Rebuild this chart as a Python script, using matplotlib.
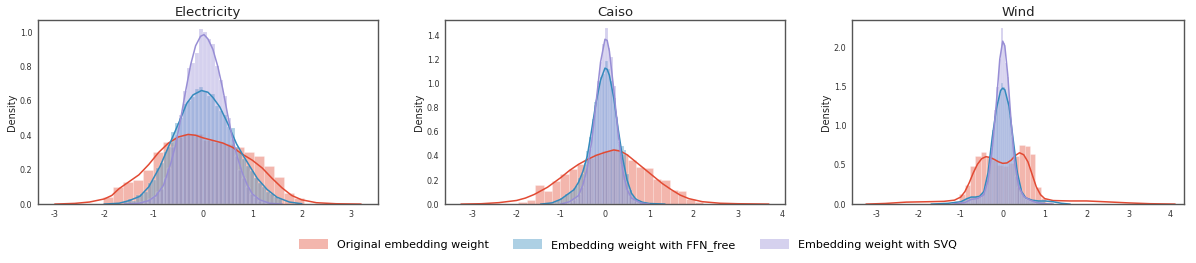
import matplotlib
matplotlib.use("Agg")
import matplotlib.pyplot as plt
from matplotlib.patches import Patch
import numpy as np

plt.rcParams['font.family'] = ['DejaVu Sans']
plt.rcParams['axes.unicode_minus'] = False

titles = ["Electricity", "Caiso", "Wind"]
labels = ["Original embedding weight", "Embedding weight with FFN_free", "Embedding weight with SVQ"]
colors = ["#E24A33", "#348ABD", "#988ED5"]

# ---------------- Electricity ----------------
elec_orig_start, elec_orig_width = -2.02, 0.203
elec_orig_hist = [0.04, 0.10, 0.13, 0.14, 0.20, 0.30, 0.36, 0.39, 0.41, 0.41,
                  0.37, 0.36, 0.35, 0.33, 0.30, 0.28, 0.22, 0.16, 0.065, 0.033]
elec_small_start, elec_small_width = -1.6, 0.08
elec_ffn_hist = [0.01, 0.03, 0.02, 0.05, 0.06, 0.07, 0.12, 0.14, 0.21, 0.24,
                 0.30, 0.33, 0.42, 0.47, 0.50, 0.58, 0.60, 0.62, 0.67, 0.68,
                 0.66, 0.63, 0.64, 0.57, 0.54, 0.52, 0.45, 0.44, 0.33, 0.30,
                 0.26, 0.22, 0.19, 0.15, 0.12, 0.10, 0.07, 0.06, 0.04, 0.03]
elec_svq_hist = [0.0, 0.0, 0.0, 0.005, 0.01, 0.015, 0.03, 0.04, 0.07, 0.09,
                 0.15, 0.21, 0.33, 0.40, 0.52, 0.66, 0.79, 0.82, 0.88, 1.02,
                 1.00, 0.96, 0.93, 0.80, 0.72, 0.63, 0.50, 0.38, 0.28, 0.20,
                 0.15, 0.10, 0.06, 0.04, 0.02, 0.012, 0.006, 0.003, 0.0, 0.0]
elec_orig_kde_x = [-3.0, -2.6, -2.3, -2.0, -1.85, -1.7, -1.5, -1.3, -1.1, -0.9, -0.7, -0.5, -0.3, -0.15,
                   0.0, 0.2, 0.4, 0.6, 0.8, 1.0, 1.2, 1.4, 1.6, 1.8, 2.0, 2.3, 2.7, 3.2]
elec_orig_kde_y = [0.0, 0.004, 0.012, 0.03, 0.05, 0.09, 0.13, 0.17, 0.23, 0.30, 0.355, 0.39, 0.405, 0.40,
                   0.385, 0.37, 0.355, 0.33, 0.29, 0.255, 0.21, 0.15, 0.095, 0.05, 0.025, 0.008, 0.002, 0.0]
elec_ffn_kde_x = [-2.0, -1.7, -1.5, -1.28, -1.1, -0.87, -0.6, -0.45, -0.33, -0.2, -0.03, 0.1, 0.2, 0.34,
                  0.5, 0.68, 0.82, 0.955, 1.1, 1.3, 1.5, 1.75, 2.0]
elec_ffn_kde_y = [0.0, 0.005, 0.02, 0.045, 0.10, 0.22, 0.40, 0.50, 0.585, 0.635, 0.66, 0.65, 0.62, 0.565,
                  0.47, 0.35, 0.28, 0.217, 0.15, 0.085, 0.04, 0.012, 0.002]
elec_svq_kde_x = [-1.6, -1.3, -1.1, -0.95, -0.8, -0.65, -0.55, -0.45, -0.35, -0.25, -0.15, -0.05, 0.02,
                  0.1, 0.2, 0.3, 0.4, 0.5, 0.6, 0.7, 0.8, 0.9, 1.0, 1.15, 1.35, 1.6]
elec_svq_kde_y = [0.0, 0.005, 0.02, 0.05, 0.11, 0.24, 0.35, 0.50, 0.66, 0.81, 0.92, 0.975, 0.985,
                  0.96, 0.90, 0.80, 0.67, 0.52, 0.38, 0.27, 0.18, 0.11, 0.06, 0.025, 0.005, 0.0]

# ---------------- Caiso ----------------
caiso_orig_start, caiso_orig_width = -1.96, 0.19
caiso_orig_hist = [0.02, 0.03, 0.16, 0.11, 0.19, 0.25, 0.29, 0.33, 0.38, 0.42, 0.44,
                   0.46, 0.42, 0.37, 0.31, 0.30, 0.21, 0.20, 0.12, 0.11, 0.04, 0.02]
caiso_small_start, caiso_small_width = -1.2, 0.06
caiso_ffn_hist = [0.01, 0.02, 0.03, 0.05, 0.06, 0.08, 0.09, 0.10, 0.13, 0.15,
                  0.22, 0.25, 0.34, 0.44, 0.56, 0.71, 0.85, 0.98, 1.06, 1.08,
                  1.19, 1.12, 1.02, 0.88, 0.68, 0.52, 0.48, 0.45, 0.25, 0.12,
                  0.07, 0.05, 0.03, 0.02, 0.01, 0.01, 0.005, 0.0, 0.0, 0.0]
caiso_svq_hist = [0.0, 0.0, 0.0, 0.0, 0.0, 0.0, 0.01, 0.015, 0.03, 0.05,
                  0.08, 0.14, 0.22, 0.33, 0.46, 0.62, 0.82, 1.02, 1.18, 1.33,
                  1.46, 1.30, 1.22, 0.98, 0.72, 0.50, 0.33, 0.20, 0.12, 0.07,
                  0.04, 0.025, 0.015, 0.01, 0.005, 0.0, 0.0, 0.0, 0.0, 0.0]
caiso_orig_kde_x = [-3.25, -2.8, -2.4, -2.0, -1.8, -1.6, -1.3, -1.0, -0.8, -0.6, -0.4, -0.2, 0.0, 0.2,
                    0.35, 0.5, 0.7, 0.9, 1.1, 1.3, 1.5, 1.7, 1.9, 2.2, 2.6, 3.0, 3.7]
caiso_orig_kde_y = [0.0, 0.003, 0.012, 0.03, 0.05, 0.08, 0.14, 0.22, 0.28, 0.33, 0.37, 0.405, 0.43, 0.45,
                    0.44, 0.41, 0.35, 0.29, 0.23, 0.17, 0.12, 0.075, 0.045, 0.02, 0.007, 0.003, 0.0]
caiso_ffn_kde_x = [-1.45, -1.2, -1.0, -0.85, -0.7, -0.6, -0.5, -0.4, -0.3, -0.2, -0.1, 0.0, 0.05, 0.1,
                   0.2, 0.3, 0.4, 0.5, 0.6, 0.7, 0.85, 1.0, 1.35]
caiso_ffn_kde_y = [0.0, 0.01, 0.04, 0.08, 0.12, 0.18, 0.27, 0.40, 0.62, 0.85, 1.03, 1.13, 1.12, 1.07,
                   0.88, 0.62, 0.38, 0.20, 0.09, 0.04, 0.015, 0.005, 0.0]
caiso_svq_kde_x = [-1.0, -0.8, -0.6, -0.5, -0.4, -0.3, -0.2, -0.1, 0.0, 0.05, 0.1, 0.2, 0.3, 0.4,
                   0.5, 0.6, 0.8, 1.0]
caiso_svq_kde_y = [0.0, 0.02, 0.07, 0.16, 0.30, 0.52, 0.85, 1.18, 1.37, 1.36, 1.27, 0.95, 0.58, 0.28,
                   0.12, 0.05, 0.01, 0.0]

# ---------------- Wind ----------------
wind_orig_start, wind_orig_width = -1.17, 0.13
wind_orig_hist = [0.04, 0.13, 0.24, 0.48, 0.62, 0.66, 0.60, 0.56, 0.50,
                  0.49, 0.53, 0.62, 0.76, 0.74, 0.64, 0.22, 0.08, 0.03]
wind_small_start, wind_small_width = -1.0, 0.05
wind_ffn_hist = [0.035, 0.05, 0.065, 0.08, 0.09, 0.09, 0.09, 0.09, 0.10, 0.11,
                 0.14, 0.22, 0.34, 0.50, 0.72, 0.94, 1.12, 1.30, 1.40, 1.55,
                 1.50, 1.40, 1.32, 1.12, 0.92, 0.66, 0.48, 0.31, 0.20, 0.13,
                 0.09, 0.07, 0.06, 0.05, 0.05, 0.04, 0.04, 0.04, 0.04, 0.04]
wind_svq_hist = [0.01, 0.015, 0.03, 0.05, 0.06, 0.06, 0.07, 0.07, 0.08, 0.09,
                 0.11, 0.16, 0.24, 0.38, 0.58, 0.85, 1.20, 1.50, 1.85, 2.25,
                 2.05, 1.80, 1.62, 1.20, 0.85, 0.56, 0.36, 0.22, 0.15, 0.11,
                 0.08, 0.06, 0.05, 0.04, 0.03, 0.02, 0.015, 0.01, 0.005, 0.0]
wind_orig_kde_x = [-3.25, -2.8, -2.3, -1.8, -1.4, -1.15, -1.0, -0.9, -0.8, -0.7, -0.6, -0.5, -0.4, -0.3,
                   -0.2, -0.1, 0.0, 0.1, 0.2, 0.3, 0.4, 0.5, 0.6, 0.7, 0.8, 0.9, 1.0, 1.2, 1.6, 2.0,
                   2.5, 3.0, 3.5, 4.1]
wind_orig_kde_y = [0.0, 0.008, 0.025, 0.03, 0.035, 0.05, 0.09, 0.16, 0.27, 0.40, 0.51, 0.58, 0.605, 0.595,
                   0.57, 0.54, 0.52, 0.525, 0.56, 0.62, 0.655, 0.63, 0.54, 0.38, 0.22, 0.12, 0.07, 0.045,
                   0.04, 0.04, 0.028, 0.015, 0.005, 0.0]
wind_ffn_kde_x = [-1.7, -1.3, -1.0, -0.85, -0.75, -0.65, -0.55, -0.45, -0.35, -0.25, -0.15, -0.05, 0.0,
                  0.05, 0.15, 0.25, 0.35, 0.45, 0.55, 0.7, 0.85, 1.0, 1.2, 1.4, 1.6]
wind_ffn_kde_y = [0.0, 0.01, 0.03, 0.07, 0.09, 0.09, 0.10, 0.16, 0.40, 0.85, 1.22, 1.45, 1.48,
                  1.46, 1.25, 0.82, 0.40, 0.16, 0.08, 0.05, 0.04, 0.04, 0.03, 0.01, 0.0]
wind_svq_kde_x = [-1.2, -0.9, -0.75, -0.6, -0.45, -0.35, -0.25, -0.15, -0.07, 0.0, 0.05, 0.12, 0.2,
                  0.28, 0.38, 0.5, 0.65, 0.8, 1.0, 1.2]
wind_svq_kde_y = [0.0, 0.02, 0.06, 0.07, 0.12, 0.30, 0.70, 1.30, 1.85, 2.08, 2.02, 1.65, 1.05,
                  0.55, 0.22, 0.10, 0.05, 0.02, 0.005, 0.0]

panels = [
    dict(orig=(elec_orig_start, elec_orig_width, elec_orig_hist),
         small=(elec_small_start, elec_small_width),
         ffn=elec_ffn_hist, svq=elec_svq_hist,
         kdes=[(elec_orig_kde_x, elec_orig_kde_y), (elec_ffn_kde_x, elec_ffn_kde_y),
               (elec_svq_kde_x, elec_svq_kde_y)],
         xlim=(-3.345, 3.55), ylim=(0, 1.07), xticks=[-3, -2, -1, 0, 1, 2, 3],
         yticks=[0.0, 0.2, 0.4, 0.6, 0.8, 1.0], yfmt="{:.1f}"),
    dict(orig=(caiso_orig_start, caiso_orig_width, caiso_orig_hist),
         small=(caiso_small_start, caiso_small_width),
         ffn=caiso_ffn_hist, svq=caiso_svq_hist,
         kdes=[(caiso_orig_kde_x, caiso_orig_kde_y), (caiso_ffn_kde_x, caiso_ffn_kde_y),
               (caiso_svq_kde_x, caiso_svq_kde_y)],
         xlim=(-3.62, 4.07), ylim=(0, 1.53), xticks=[-3, -2, -1, 0, 1, 2, 3, 4],
         yticks=[0.0, 0.2, 0.4, 0.6, 0.8, 1.0, 1.2, 1.4], yfmt="{:.1f}"),
    dict(orig=(wind_orig_start, wind_orig_width, wind_orig_hist),
         small=(wind_small_start, wind_small_width),
         ffn=wind_ffn_hist, svq=wind_svq_hist,
         kdes=[(wind_orig_kde_x, wind_orig_kde_y), (wind_ffn_kde_x, wind_ffn_kde_y),
               (wind_svq_kde_x, wind_svq_kde_y)],
         xlim=(-3.59, 4.32), ylim=(0, 2.35), xticks=[-3, -2, -1, 0, 1, 2, 3, 4],
         yticks=[0.0, 0.5, 1.0, 1.5, 2.0], yfmt="{:.1f}"),
]

fig = plt.figure(figsize=(11.96, 2.63), dpi=100)
lefts = [0.0318, 0.372, 0.7124]
widths = [0.2843, 0.2843, 0.2776]

for i, p in enumerate(panels):
    ax = fig.add_axes([lefts[i], 0.224, widths[i], 0.700])
    start, w, h = p["orig"]
    edges = start + w * np.arange(len(h))
    ax.bar(edges, h, width=w, align="edge", color=colors[0], alpha=0.4,
           edgecolor="white", linewidth=0.4)
    s_start, s_w = p["small"]
    for j, h2 in enumerate([p["ffn"], p["svq"]]):
        e2 = s_start + s_w * np.arange(len(h2))
        ax.bar(e2, h2, width=s_w, align="edge", color=colors[j + 1], alpha=0.4,
               edgecolor="white", linewidth=0.3)
    for j, (kx, ky) in enumerate(p["kdes"]):
        ax.plot(kx, ky, color=colors[j], lw=1.1)
    ax.set_xlim(*p["xlim"])
    ax.set_ylim(*p["ylim"])
    ax.set_xticks(p["xticks"])
    ax.set_xticklabels([str(t) for t in p["xticks"]])
    ax.set_yticks(p["yticks"])
    ax.set_yticklabels([p["yfmt"].format(t) for t in p["yticks"]])
    ax.tick_params(length=0, labelsize=5.8, colors="#333333", pad=4)
    for sp in ax.spines.values():
        sp.set_color("#555555")
        sp.set_linewidth(1.0)
    ax.set_ylabel("Density", fontsize=7, color="#222222", labelpad=2)
    ax.set_title(titles[i], fontsize=9.5, color="#222222", pad=3)

handles = [Patch(facecolor=c, alpha=0.4, edgecolor="none") for c in colors]
fig.legend(handles, labels, loc="center", bbox_to_anchor=(0.525, 0.068), ncol=3,
           frameon=False, fontsize=8, handlelength=2.6, handleheight=0.9,
           columnspacing=2.2, handletextpad=0.8)

fig.savefig("out.png", dpi=100)
